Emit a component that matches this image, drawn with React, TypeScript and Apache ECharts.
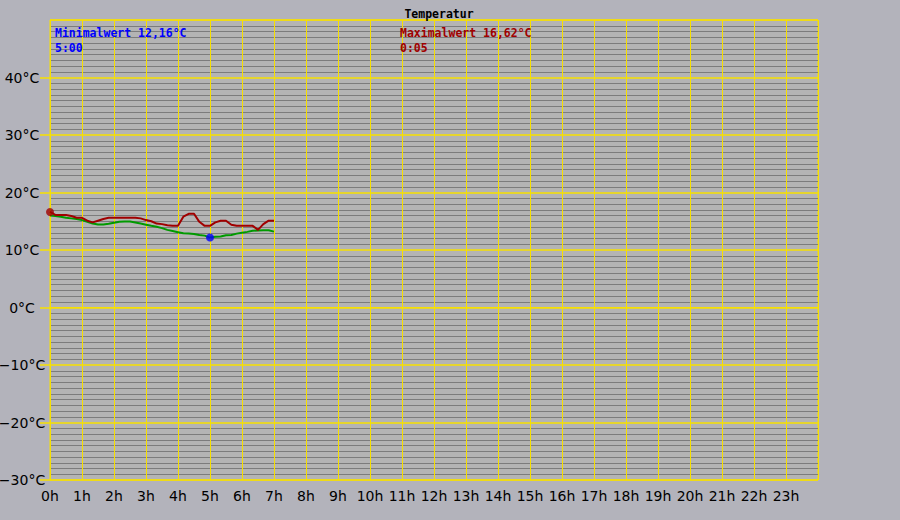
import React, { useEffect, useRef } from "react";
import * as echarts from "echarts";

const title = "Temperatur";
const hourLabels = ["0h","1h","2h","3h","4h","5h","6h","7h","8h","9h","10h","11h","12h","13h","14h","15h","16h","17h","18h","19h","20h","21h","22h","23h"];
const yTickValues = [-30, -20, -10, 0, 10, 20, 30, 40];

// minutes after midnight
const times = [0,10,20,30,40,50,60,70,80,90,100,110,120,130,140,150,160,170,180,190,200,210,220,230,240,250,260,270,280,290,300,310,320,330,340,350,360,370,380,390,400,410,420];
const maxValues = [16.62,16.1,16.1,16.1,15.9,15.6,15.6,15.1,14.8,15.1,15.4,15.6,15.6,15.6,15.6,15.6,15.6,15.5,15.2,15.0,14.6,14.5,14.3,14.2,14.2,15.8,16.3,16.3,14.9,14.2,14.2,14.8,15.1,15.1,14.4,14.2,14.2,14.2,14.2,13.5,14.5,15.1,15.1];
const minValues = [16.0,15.9,15.8,15.6,15.5,15.4,15.2,14.9,14.6,14.45,14.45,14.55,14.75,14.9,14.95,14.95,14.8,14.6,14.4,14.2,14.05,13.8,13.5,13.3,13.1,12.9,12.85,12.8,12.6,12.5,12.16,12.3,12.35,12.55,12.6,12.85,13.0,13.15,13.35,13.4,13.45,13.45,13.2];

const minPoint = { label: "Minimalwert", value: 12.16, time: "5:00", minute: 300 };
const maxPoint = { label: "Maximalwert", value: 16.62, time: "0:05", minute: 0 };

const YELLOW = "#f7e000";
const RED = "#a00000";
const GREEN = "#009a00";
const BLUE = "#0000ff";
const MONO = "'DejaVu Sans Mono', 'Liberation Mono', monospace";

const fmt = (v: number) => v.toFixed(2).replace(".", ",");

export default function App() {
  const ref = useRef<HTMLDivElement>(null);
  useEffect(() => {
    if (!ref.current) return;
    const chart = echarts.init(ref.current, undefined, { renderer: "svg" });
    const maxData = times.map((t, i) => [t / 60, maxValues[i]]);
    const minData = times.map((t, i) => [t / 60, minValues[i]]);
    chart.setOption({
      animation: false,
      backgroundColor: "#b3b3bb",
      title: {
        text: title,
        left: 434,
        textAlign: "center",
        top: 3,
        textStyle: { fontFamily: MONO, fontWeight: "bold", fontSize: 11.5, color: "#000" },
      },
      grid: {
        left: 50,
        right: 82,
        top: 20,
        bottom: 40,
        containLabel: false,
        outerBoundsMode: "none",
        show: true,
        backgroundColor: "#b4b4b4",
        borderColor: YELLOW,
        borderWidth: 1,
      },
      xAxis: {
        type: "value",
        min: 0,
        max: 24,
        interval: 1,
        z: 2,
        axisLine: { lineStyle: { color: YELLOW, width: 1 } },
        axisTick: { show: true, length: 5, lineStyle: { color: YELLOW, width: 1 } },
        axisLabel: {
          showMaxLabel: false,
          margin: 9,
          fontFamily: "'DejaVu Sans', sans-serif",
          fontSize: 14,
          color: "#000",
          formatter: (v: number) => hourLabels[Math.round(v)] ?? "",
        },
        splitLine: { show: true, lineStyle: { color: YELLOW, width: 1 } },
      },
      yAxis: {
        type: "value",
        min: -30,
        max: 50,
        interval: 10,
        z: 1,
        axisLine: { show: true, lineStyle: { color: YELLOW, width: 1 } },
        axisTick: { show: true, length: 10, lineStyle: { color: YELLOW, width: 1.5 } },
        minorTick: { show: false, splitNumber: 10 },
        minorSplitLine: { show: true, lineStyle: { color: "#7c7c7c", width: 1 } },
        splitLine: { show: true, lineStyle: { color: YELLOW, width: 1.5 } },
        axisLabel: {
          showMaxLabel: false,
          align: "center",
          margin: 28,
          fontFamily: "'DejaVu Sans', sans-serif",
          fontSize: 14,
          color: "#000",
          formatter: (v: number) => (yTickValues.includes(v) ? `${v < 0 ? "\u2212" + Math.abs(v) : v}°C` : ""),
        },
      },
      graphic: [
        {
          type: "text",
          left: 55,
          top: 25,
          style: {
            text: `${minPoint.label} ${fmt(minPoint.value)}°C\n${minPoint.time}`,
            fill: BLUE,
            font: `bold 11.5px ${MONO}`,
            lineHeight: 15,
          },
          z: 10,
        },
        {
          type: "text",
          left: 400,
          top: 25,
          style: {
            text: `${maxPoint.label} ${fmt(maxPoint.value)}°C\n${maxPoint.time}`,
            fill: RED,
            font: `bold 11.5px ${MONO}`,
            lineHeight: 15,
          },
          z: 10,
        },
      ],
      series: [
        {
          type: "line",
          name: "max",
          data: maxData,
          showSymbol: false,
          lineStyle: { color: RED, width: 2 },
          z: 5,
        },
        {
          type: "line",
          name: "min",
          data: minData,
          showSymbol: false,
          lineStyle: { color: GREEN, width: 2 },
          z: 4,
        },
        {
          type: "scatter",
          data: [[maxPoint.minute / 60, maxPoint.value]],
          symbolSize: 8,
          itemStyle: { color: RED },
          z: 6,
        },
        {
          type: "scatter",
          data: [[minPoint.minute / 60, minPoint.value]],
          symbolSize: 8,
          itemStyle: { color: BLUE },
          z: 6,
        },
      ],
    });
    return () => chart.dispose();
  }, []);
  return <div ref={ref} style={{ position: "fixed", left: 0, top: 0, width: 900, height: 520 }} />;
}
